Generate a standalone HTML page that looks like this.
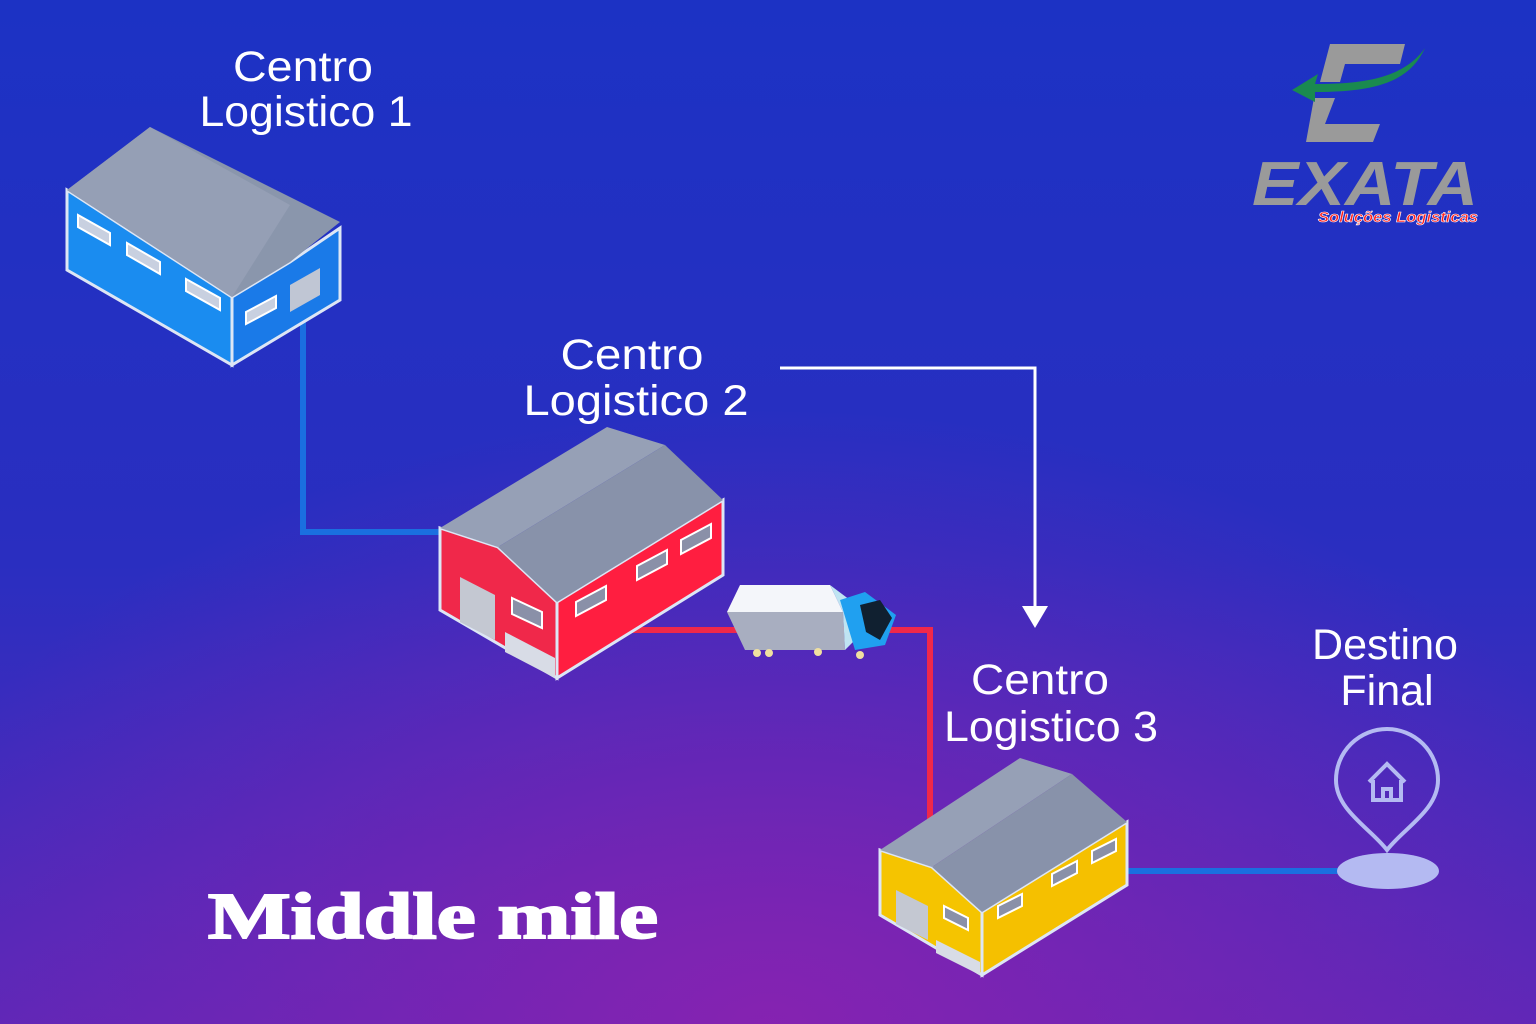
<!DOCTYPE html>
<html><head><meta charset="utf-8"><style>
html,body{margin:0;padding:0;width:1536px;height:1024px;overflow:hidden}
</style></head><body>
<svg width="1536" height="1024" viewBox="0 0 1536 1024" xmlns="http://www.w3.org/2000/svg">
<defs>
<linearGradient id="bg" x1="0" y1="0" x2="0" y2="1">
<stop offset="0" stop-color="#1c32c4"/><stop offset="0.55" stop-color="#2a2ec0"/><stop offset="1" stop-color="#5a28b8"/>
</linearGradient>
<radialGradient id="rg" cx="0.5" cy="1" r="0.6">
<stop offset="0" stop-color="#8a22b0" stop-opacity="0.9"/><stop offset="1" stop-color="#8a22b0" stop-opacity="0"/>
</radialGradient>
</defs>
<rect width="1536" height="1024" fill="url(#bg)"/>
<rect width="1536" height="1024" fill="url(#rg)"/>

<polyline points="303,300 303,532 442,532" fill="none" stroke="#1a6fe0" stroke-width="6"/>
<polyline points="615,630 930,630 930,820" fill="none" stroke="#f0284a" stroke-width="6"/>
<polyline points="780,368 1035,368 1035,608" fill="none" stroke="#fff" stroke-width="3"/>
<polygon points="1022,606 1048,606 1035,628" fill="#fff"/>
<line x1="1127" y1="871" x2="1345" y2="871" stroke="#1a6fe0" stroke-width="6"/>

<!-- warehouse 1 blue -->
<polygon points="67,190 232,297 232,365 67,270" fill="#1a8cf0" stroke="#dde6f5" stroke-width="3"/>
<polygon points="232,297 290,262 340,228 340,300 232,365" fill="#1a7ae8" stroke="#dde6f5" stroke-width="3"/>
<polygon points="67,190 150,127 340,222 290,262 232,297" fill="#8a96ac"/>
<polygon points="67,190 150,127 290,205 232,297" fill="#959fb5"/>
<polygon points="290,285 320,268 320,295 290,312" fill="#c0c6d4"/>
<g fill="#c8d0e0" stroke="#fff" stroke-width="2">
<polygon points="78,215 110,233 110,245 78,227"/>
<polygon points="127,243 160,262 160,274 127,255"/>
<polygon points="186,279 220,298 220,310 186,291"/>
<polygon points="246,312 276,296 276,308 246,324"/>
</g>

<!-- warehouse 2 red -->
<polygon points="440,528 498,547 557,602 557,678 440,610" fill="#f0284a" stroke="#dde6f5" stroke-width="3"/>
<polygon points="557,602 723,500 723,575 557,678" fill="#ff1e40" stroke="#dde6f5" stroke-width="3"/>
<polygon points="440,528 607,427 665,445 498,547" fill="#96a0b6"/>
<polygon points="498,547 665,445 723,500 557,602" fill="#8892aa"/>
<polygon points="460,577 495,595 495,640 460,622" fill="#c4c8d2"/>
<polygon points="505,632 555,658 555,678 505,652" fill="#d8dce6"/>
<g fill="#8a90a8" stroke="#fff" stroke-width="2">
<polygon points="512,598 542,612 542,628 512,614"/>
<polygon points="576,602 606,586 606,600 576,616"/>
<polygon points="637,566 667,550 667,564 637,580"/>
<polygon points="681,540 711,524 711,538 681,554"/>
</g>

<!-- truck -->
<polygon points="727,612 740,585 830,585 843,612" fill="#f4f6fa"/>
<polygon points="727,612 843,612 845,650 745,650" fill="#a8aec0"/>
<polygon points="830,585 843,612 845,650 855,640 850,600" fill="#bfe4f2"/>
<polygon points="840,600 865,592 896,615 885,645 855,650" fill="#20a0f0"/>
<polygon points="860,605 880,600 892,618 880,640 866,632" fill="#102030"/>
<g fill="#f0e0a0"><circle cx="757" cy="653" r="4"/><circle cx="769" cy="653" r="4"/><circle cx="818" cy="652" r="4"/><circle cx="860" cy="655" r="4"/></g>

<!-- warehouse 3 yellow -->
<polygon points="880,850 932,867 982,912 982,975 880,915" fill="#f5c400" stroke="#dde6f5" stroke-width="3"/>
<polygon points="982,912 1127,822 1127,885 982,975" fill="#f5c000" stroke="#dde6f5" stroke-width="3"/>
<polygon points="880,850 1020,758 1072,774 932,867" fill="#96a0b6"/>
<polygon points="932,867 1072,774 1127,822 982,912" fill="#8892aa"/>
<polygon points="896,890 928,906 928,940 896,924" fill="#c4c8d2"/>
<polygon points="936,940 980,962 980,975 936,953" fill="#d8dce6"/>
<g fill="#8a90a8" stroke="#fff" stroke-width="2">
<polygon points="944,906 968,918 968,930 944,918"/>
<polygon points="998,906 1022,894 1022,906 998,918"/>
<polygon points="1052,874 1077,861 1077,873 1052,886"/>
<polygon points="1092,851 1116,839 1116,851 1092,863"/>
</g>

<!-- pin -->
<ellipse cx="1388" cy="871" rx="51" ry="18" fill="#b4baf2"/>
<path d="M1387,850 C1370,828 1336,810 1336,780 A51,51 0 0 1 1438,780 C1438,810 1404,828 1387,850 Z" fill="none" stroke="#b4baf2" stroke-width="4"/>
<path d="M1369,782 L1387,764 L1405,782 M1373,780 V800 H1401 V780 M1383,800 V789 H1391 V800" fill="none" stroke="#b4baf2" stroke-width="4"/>

<!-- labels -->
<g fill="#fff" font-family="Liberation Sans, sans-serif" font-size="43" text-anchor="middle">
<text x="303" y="81" textLength="140" lengthAdjust="spacingAndGlyphs">Centro</text><text x="306" y="126" textLength="213" lengthAdjust="spacingAndGlyphs">Logistico 1</text>
<text x="632" y="369" textLength="143" lengthAdjust="spacingAndGlyphs">Centro</text><text x="636" y="415" textLength="225" lengthAdjust="spacingAndGlyphs">Logistico 2</text>
<text x="1040" y="694" textLength="138" lengthAdjust="spacingAndGlyphs">Centro</text><text x="1051" y="741" textLength="214" lengthAdjust="spacingAndGlyphs">Logistico 3</text>
<text x="1385" y="659" textLength="146" lengthAdjust="spacingAndGlyphs">Destino</text><text x="1387" y="705">Final</text>
</g>
<text x="208" y="938" fill="#fff" font-family="Liberation Serif, serif" font-weight="bold" font-size="66" stroke="#fff" stroke-width="2" textLength="450" lengthAdjust="spacingAndGlyphs">Middle mile</text>

<!-- logo -->
<polygon points="1330,44 1405,44 1400,64 1345,64 1340,82 1320,82" fill="#9a9a9a"/>
<polygon points="1314,98 1335,98 1325,124 1380,124 1373,142 1306,142" fill="#9a9a9a"/>
<path d="M1425,48 C1410,80 1380,92 1315,92 L1315,102 L1292,90 L1318,74 L1315,84 C1370,84 1405,76 1425,48 Z" fill="#1a8a50"/>
<text x="1252" y="205" fill="#9a9a9a" font-family="Liberation Sans, sans-serif" font-weight="bold" font-style="italic" font-size="62" textLength="226" lengthAdjust="spacingAndGlyphs">EXATA</text>
<text x="1318" y="222" fill="#ff1e1e" stroke="#fff" stroke-width="0.6" font-family="Liberation Sans, sans-serif" font-weight="bold" font-style="italic" font-size="15" textLength="160" lengthAdjust="spacingAndGlyphs">Soluções Logisticas</text>
</svg>
</body></html>
